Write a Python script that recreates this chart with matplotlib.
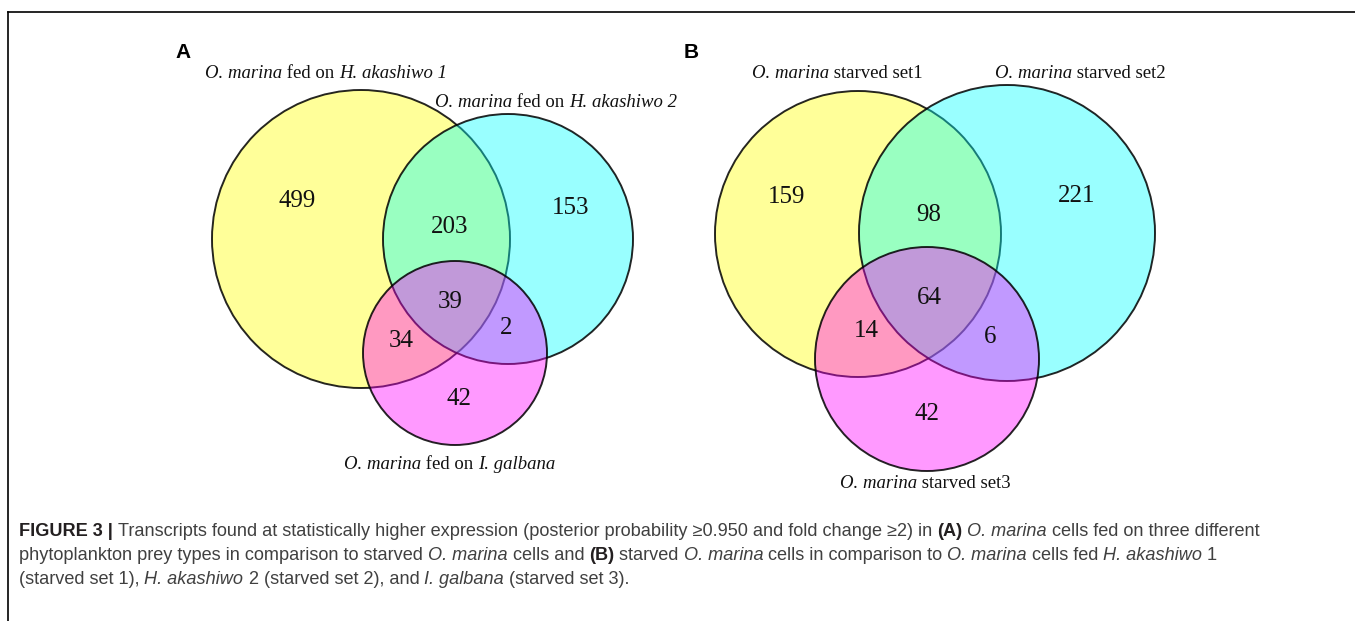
import matplotlib
matplotlib.use("Agg")
import matplotlib.pyplot as plt
from matplotlib.patches import Circle

# region counts: only1, only2, only3, 1&2, 1&3, 2&3, all
counts_a = [499, 153, 42, 203, 34, 2, 39]
counts_b = [159, 221, 42, 98, 14, 6, 64]

# set labels as (text, italic) runs
labels_a = [
    [("O. marina", True), (" fed on ", False), ("H. akashiwo 1", True)],
    [("O. marina", True), (" fed on ", False), ("H. akashiwo 2", True)],
    [("O. marina", True), (" fed on ", False), ("I. galbana", True)],
]
labels_b = [
    [("O. marina", True), (" starved set1", False)],
    [("O. marina", True), (" starved set2", False)],
    [("O. marina", True), (" starved set3", False)],
]

set_colors = ["#ffff00", "#00ffff", "#ff00ff"]

caption = [
    [("FIGURE 3 | ", "bold"), ("Transcripts found at statistically higher expression (posterior probability \u22650.950 and fold change \u22652) in ", ""),
     ("(A)", "bold"), (" ", ""), ("O. marina", "it"), (" cells fed on three different", "")],
    [("phytoplankton prey types in comparison to starved ", ""), ("O. marina", "it"), (" cells and ", ""), ("(B)", "bold"),
     (" starved ", ""), ("O. marina", "it"), (" cells in comparison to ", ""), ("O. marina", "it"), (" cells fed ", ""),
     ("H. akashiwo", "it"), (" 1", "")],
    [("(starved set 1), ", ""), ("H. akashiwo", "it"), (" 2 (starved set 2), and ", ""), ("I. galbana", "it"),
     (" (starved set 3).", "")],
]

W, H = 1355, 621
fig = plt.figure(figsize=(W / 100, H / 100), dpi=100)
ax = fig.add_axes([0, 0, 1, 1])
ax.set_xlim(0, W)
ax.set_ylim(H, 0)
ax.axis("off")
renderer = fig.canvas.get_renderer()


def run_width(s, kw):
    # measure with bar padding so leading/trailing spaces count
    t1 = ax.text(0, 0, "|" + s + "|", **kw)
    t2 = ax.text(0, 0, "||", **kw)
    w = t1.get_window_extent(renderer).width - t2.get_window_extent(renderer).width
    t1.remove()
    t2.remove()
    return w


def draw_runs(x, y, runs, ha="left", **kw):
    props = [{**kw, **p} for _, p in runs]
    widths = [run_width(s, pr) for (s, _), pr in zip(runs, props)]
    if ha == "center":
        x = x - sum(widths) / 2
    for (s, _), pr, w in zip(runs, props, widths):
        ax.text(x, y, s, va="baseline", ha="left", **pr)
        x += w


def venn(centers, radii, counts, spots, labels, label_pos):
    for (cx, cy), r, c in zip(centers, radii, set_colors):
        ax.add_patch(Circle((cx, cy), r, facecolor=c, alpha=0.4, edgecolor="none"))
        ax.add_patch(Circle((cx, cy), r, facecolor="none", edgecolor="black", lw=1.4, alpha=0.85))
    for n, (x, y) in zip(counts, spots):
        ax.text(x, y, str(n), ha="center", va="center", fontsize=18, family="Liberation Serif", color="#111111")
    for runs, (x, y) in zip(labels, label_pos):
        r = [(s, {"style": "italic" if it else "normal"}) for s, it in runs]
        draw_runs(x, y, r, ha="center", fontsize=13.5, family="Liberation Serif", color="#111111")


# panel A
venn([(361, 239), (508, 239), (455, 353)], [149, 125, 92],
     counts_a,
     [(297, 201), (571, 208), (459, 399), (450, 227), (401, 341), (506, 328), (450, 302)],
     labels_a, [(326, 78), (556, 107), (450, 469)])
# panel B
venn([(858, 234), (1007, 233), (927, 359)], [143, 148, 112],
     counts_b,
     [(787, 197), (1077, 196), (927, 414), (929, 215), (866, 331), (990, 337), (929, 298)],
     labels_b, [(837, 78), (1080, 78), (925, 488)])

ax.text(183, 52, "A", ha="center", va="center", fontsize=15, fontweight="bold", family="Liberation Sans")
ax.text(691, 52, "B", ha="center", va="center", fontsize=15, fontweight="bold", family="Liberation Sans")

# frame: top and left rules only
ax.plot([8, W], [12, 12], color="black", lw=1.2)
ax.plot([8, 8], [12, H], color="black", lw=1.2)

styles = {"bold": {"fontweight": "bold", "color": "#231f20"}, "it": {"style": "italic"}, "": {}}
for i, line in enumerate(caption):
    runs = [(s, styles[k]) for s, k in line]
    draw_runs(19, 536 + 24 * i, runs, fontsize=13.1, family="Liberation Sans", color="#404040")

fig.savefig("out.png", dpi=100)
